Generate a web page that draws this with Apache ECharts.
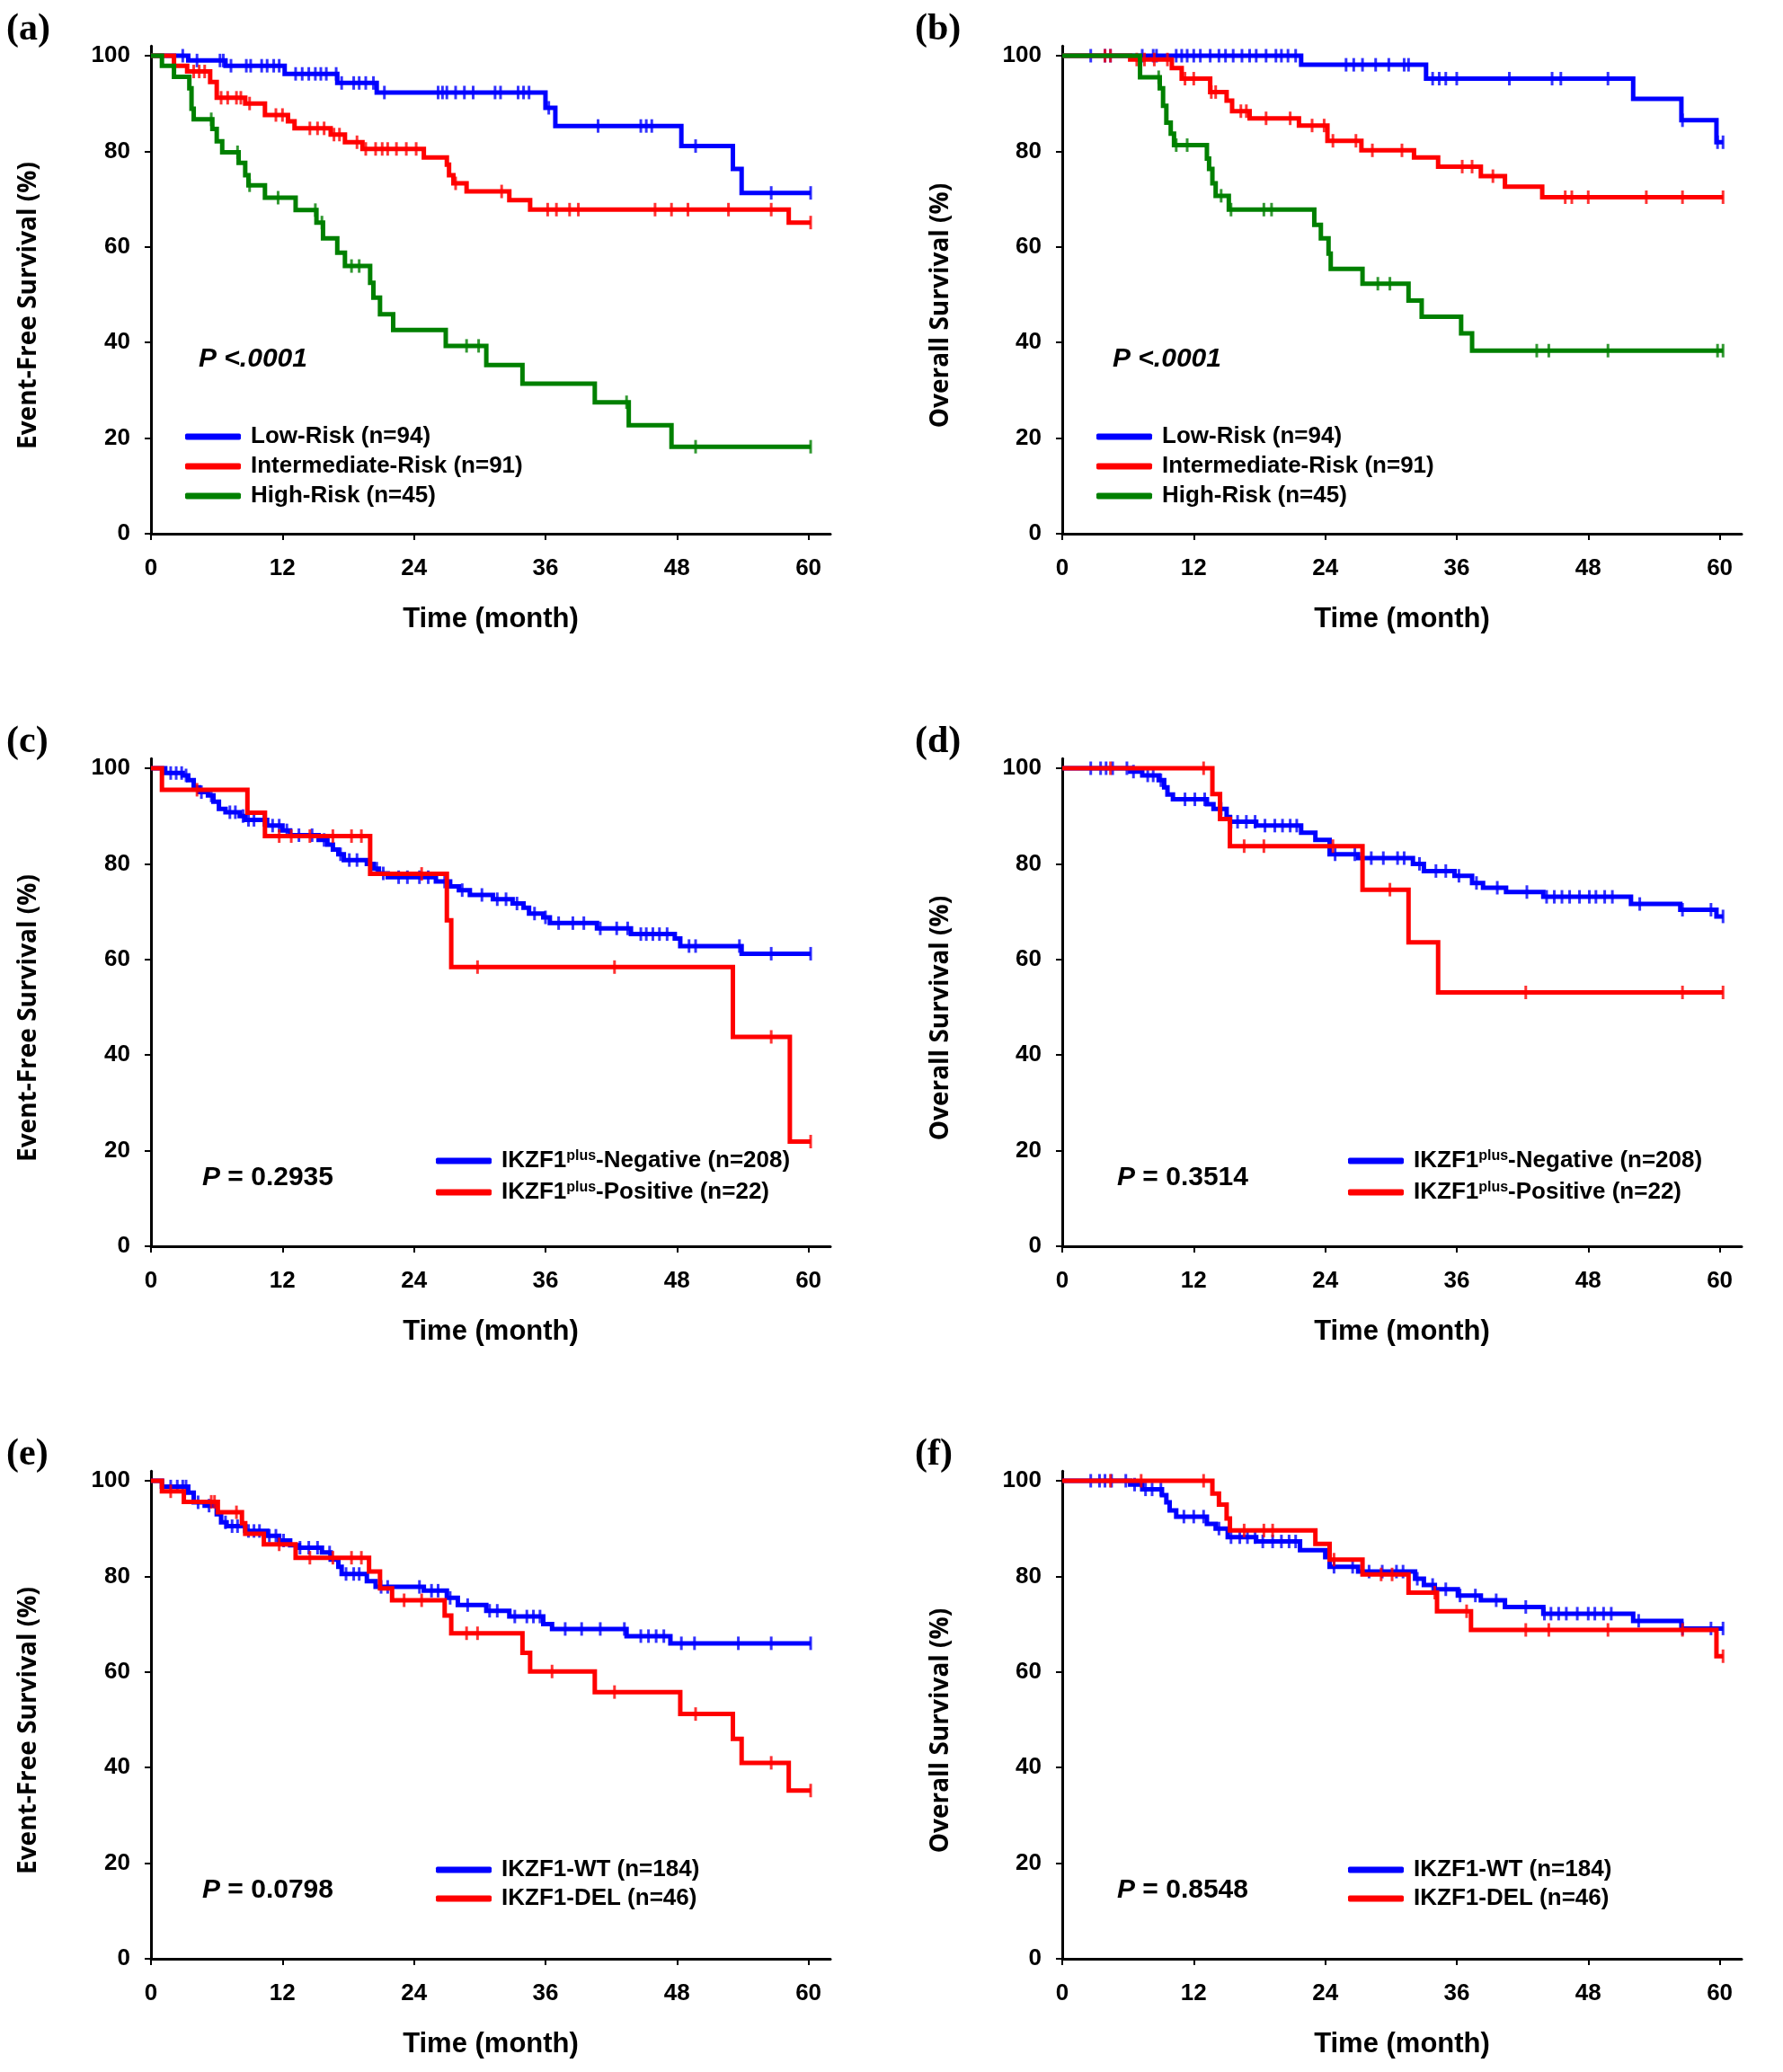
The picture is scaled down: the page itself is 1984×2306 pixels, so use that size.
<!DOCTYPE html>
<html><head><meta charset="utf-8">
<script src="https://cdn.jsdelivr.net/npm/echarts@6/dist/echarts.min.js"></script>
<style>html,body{margin:0;padding:0;background:#fff}#c{width:1984px;height:2306px}</style>
</head><body><div id="c"></div>
<script>
// ---------- tick labels ----------
const X_TICKS = [0, 12, 24, 36, 48, 60];
const Y_TICKS = [0, 20, 40, 60, 80, 100];

// ---------- panel (a) Event-free survival by risk group ----------
const aLowCurve = [[0,100],[3.4,99.0],[6.8,97.9],[12.2,96.2],[17.0,94.3],[20.6,92.3],[36.0,89.1],[36.9,85.3],[48.4,81.1],[53.1,76.3],[53.9,71.3],[60.2,71.3]];
const aLowCens = [2.9,4.2,6.3,6.6,7.3,8.7,9.1,10.1,10.6,11.2,11.7,13.2,13.8,14.4,15.0,15.5,16.0,16.9,17.4,18.5,19.0,19.6,20.3,21.3,26.2,26.6,27.0,27.8,28.6,29.4,31.4,31.9,33.5,34.0,34.5,36.3,40.8,44.7,45.2,45.7,49.7,56.6,60.2];
const aIntCurve = [[0,100],[2.1,97.9],[3.3,96.7],[5.4,94.5],[6.0,91.2],[8.6,90.0],[10.4,87.6],[12.5,86.3],[13.1,84.8],[16.4,83.5],[17.7,81.9],[19.3,80.5],[24.9,78.7],[27.0,77.2],[27.2,75.0],[27.6,73.3],[28.8,71.6],[32.7,69.8],[34.6,67.8],[58.2,65.1],[60.2,65.1]];
const aIntCens = [3.9,4.4,4.9,6.4,7.0,7.8,8.2,9.0,11.4,12.0,14.5,15.2,15.8,16.7,17.2,18.8,19.6,20.5,21.1,21.6,22.4,23.3,24.2,27.8,32.0,36.2,37.0,38.2,39.0,46.0,47.5,49.0,52.7,56.6,60.2];
const aHighCurve = [[0,100],[1.0,97.9],[2.1,95.6],[3.5,93.2],[3.7,88.9],[3.9,86.7],[5.6,84.7],[6.0,82.1],[6.5,79.8],[8.0,77.6],[8.6,75.0],[8.9,72.9],[10.4,70.3],[13.2,67.7],[15.1,65.1],[15.7,61.8],[17.0,58.8],[17.7,56.0],[20.0,52.5],[20.3,49.4],[20.9,45.9],[22.1,42.6],[26.9,39.3],[30.6,35.3],[33.9,31.4],[40.5,27.5],[43.6,22.7],[47.5,18.2],[60.2,18.2]];
const aHighCens = [5.5,7.9,9.0,11.6,15.0,15.6,18.3,19.0,28.8,29.9,43.4,49.7,60.2];

// ---------- panel (b) Overall survival by risk group ----------
const bLowCurve = [[0,100],[21.8,98.1],[33.2,95.2],[52.1,91.0],[56.5,86.5],[59.7,81.9],[60.3,81.9]];
const bLowCens = [2.6,3.9,4.4,7.3,8.3,8.6,10.4,10.9,11.4,12.0,12.6,13.5,14.3,14.9,15.6,16.4,17.1,17.7,18.6,19.5,20.0,20.6,21.3,25.9,26.6,27.4,28.6,29.8,31.2,31.6,33.8,34.4,35.0,36.0,40.8,44.7,45.5,49.8,56.6,59.8,60.3];
const bIntCurve = [[0,100],[6.2,99.2],[10.0,97.4],[10.9,95.2],[13.5,92.4],[15.0,90.6],[15.5,88.4],[17.1,86.9],[21.6,85.4],[24.2,82.2],[27.3,80.2],[32.1,78.7],[34.3,76.8],[38.2,74.8],[40.4,72.6],[43.8,70.4],[60.3,70.4]];
const bIntCens = [3.9,4.4,6.8,7.5,8.4,9.6,11.2,12.0,13.6,14.0,16.3,16.8,18.6,20.8,22.8,23.9,24.7,26.8,28.3,31.0,36.5,37.4,39.3,45.9,46.5,48.0,53.3,56.6,60.3];
const bHighCurve = [[0,100],[7.1,95.5],[8.9,93.2],[9.2,89.5],[9.5,86.0],[9.9,83.7],[10.2,81.3],[13.2,78.5],[13.4,76.3],[13.7,73.3],[14.0,70.7],[15.2,67.8],[23.0,64.6],[23.6,61.8],[24.3,58.6],[24.5,55.4],[27.4,52.3],[31.6,48.8],[32.8,45.4],[36.4,41.9],[37.4,38.3],[60.3,38.3]];
const bHighCens = [8.8,10.4,11.4,14.5,15.4,18.4,19.1,28.8,29.9,43.3,44.4,49.8,59.8,60.3];

// ---------- panel (c) Event-free survival by IKZF1plus ----------
const cNegCurve = [[0,100],[1.3,99.0],[2.9,98.5],[3.4,97.5],[3.9,96.0],[4.4,95.0],[5.2,94.3],[5.7,93.0],[6.2,91.5],[6.8,90.8],[8.1,90.0],[8.6,89.2],[10.6,88.0],[12.0,87.0],[12.7,86.0],[15.3,85.0],[16.1,84.0],[16.6,83.0],[17.1,82.0],[17.6,80.8],[19.7,80.0],[20.3,79.0],[20.8,78.0],[21.6,77.2],[26.0,76.3],[27.3,75.3],[28.1,74.5],[29.1,73.5],[31.2,72.6],[33.0,71.7],[34.0,70.8],[34.5,69.6],[35.8,68.8],[36.4,67.6],[40.7,66.5],[43.8,65.3],[47.8,64.4],[48.3,62.8],[53.9,61.2],[60.2,61.2]];
const cNegCens = [1.8,2.3,2.8,3.2,4.6,5.5,7.2,7.7,8.4,8.9,9.4,10.3,11.1,11.7,12.4,13.5,14.7,15.8,17.3,18.1,18.8,20.6,21.2,22.6,23.4,24.5,25.3,26.8,28.4,30.2,31.6,32.4,33.4,35.0,36.0,37.2,38.5,39.5,41.0,42.5,43.5,44.7,45.2,45.8,46.4,47.1,49.1,49.7,53.7,56.6,60.2];
const cPosCurve = [[0,100],[1.0,95.5],[8.8,90.7],[10.4,85.8],[20.0,77.9],[27.0,68.2],[27.4,58.4],[53.1,43.8],[58.3,21.9],[60.2,21.9]];
const cPosCens = [4.2,11.7,12.8,14.5,16.6,18.3,19.2,24.7,29.8,42.3,56.6,60.2];

// ---------- panel (d) Overall survival by IKZF1plus ----------
const dNegCurve = [[0,100],[6.2,99.3],[7.3,98.5],[8.8,97.5],[9.3,96.0],[9.6,94.5],[10.1,93.5],[13.2,92.5],[13.8,91.5],[15.0,89.8],[15.3,88.8],[17.7,88.0],[21.8,86.5],[23.1,85.0],[24.4,82.0],[27.0,81.2],[32.0,80.0],[33.0,78.5],[35.8,77.5],[37.4,76.0],[38.4,75.0],[40.5,74.1],[43.9,73.1],[51.9,71.6],[56.4,70.4],[59.7,69.0],[60.3,69.0]];
const dNegCens = [2.6,3.5,4.0,4.6,5.9,6.5,7.8,8.3,9.0,11.2,12.1,13.0,14.5,15.4,16.0,16.8,17.6,18.5,19.4,20.1,20.8,21.4,24.9,26.7,28.2,29.3,30.6,31.2,32.6,34.1,35.0,36.2,37.8,39.7,42.4,44.2,44.9,45.6,46.3,47.2,48.1,48.7,49.5,50.2,52.7,56.6,59.2,60.3];
const dPosCurve = [[0,100],[13.7,94.6],[14.4,89.4],[15.3,83.7],[27.4,74.6],[31.6,63.6],[34.3,53.1],[60.3,53.1]];
const dPosCens = [4.4,12.9,16.6,18.4,24.7,29.9,42.3,56.6,60.3];

// ---------- panel (e) Event-free survival by IKZF1 deletion ----------
const eWtCurve = [[0,100],[1.0,98.8],[3.4,97.5],[3.9,95.5],[4.9,94.8],[6.0,93.0],[6.4,91.3],[6.9,90.5],[8.6,89.5],[10.6,88.5],[11.7,87.5],[12.7,86.5],[13.5,86.0],[15.6,85.0],[16.4,83.5],[17.1,82.0],[17.4,80.5],[19.7,79.0],[20.5,77.8],[24.9,77.0],[27.0,75.5],[28.0,74.0],[30.6,72.8],[32.7,71.6],[35.8,70.0],[36.6,69.0],[43.4,67.5],[47.4,66.0],[60.2,66.0]];
const eWtCens = [1.8,2.4,2.9,3.2,4.3,5.3,6.8,7.4,7.9,8.9,9.4,9.9,10.8,11.4,12.1,13.6,14.4,15.2,16.3,17.8,18.5,19.0,21.0,21.6,24.5,25.6,26.2,27.3,28.9,30.9,31.6,33.2,34.3,34.9,35.5,37.8,39.3,41.0,43.2,44.7,45.4,46.1,46.8,48.4,49.6,53.6,56.6,60.2];
const eDelCurve = [[0,100],[1.0,97.8],[3.0,95.6],[6.1,93.4],[8.3,91.1],[8.6,88.9],[10.3,86.7],[13.2,83.9],[19.9,81.0],[20.9,77.5],[22.0,75.0],[26.8,71.8],[27.4,68.1],[33.9,64.0],[34.6,60.1],[40.5,55.8],[48.3,51.2],[53.1,46.0],[53.9,41.0],[58.2,35.2],[60.2,35.2]];
const eDelCens = [1.8,5.5,5.8,7.8,11.7,14.5,16.6,18.3,19.2,23.1,24.7,28.8,29.8,36.6,42.3,49.7,56.6,60.2];

// ---------- panel (f) Overall survival by IKZF1 deletion ----------
const fWtCurve = [[0,100],[6.2,99.2],[7.3,98.2],[9.1,97.0],[9.5,95.5],[9.8,93.8],[10.4,92.5],[13.2,91.0],[14.0,90.0],[15.1,88.2],[17.7,87.3],[21.7,85.5],[24.0,84.0],[24.4,82.0],[27.0,81.0],[32.2,79.5],[33.0,78.2],[34.0,77.3],[36.1,76.0],[38.2,75.0],[40.4,73.6],[43.9,72.2],[52.1,70.7],[56.5,69.1],[60.3,69.1]];
const fWtCens = [2.6,3.4,3.9,4.5,5.8,6.6,7.6,8.2,9.0,11.1,12.0,12.9,14.3,15.4,16.2,16.9,17.6,18.3,19.2,20.0,20.7,21.3,24.8,26.5,28.0,29.2,30.5,31.1,32.4,33.8,35.0,36.3,37.7,39.6,42.3,44.0,44.6,45.3,46.0,47.0,48.0,48.6,49.4,50.1,52.6,56.6,59.2,60.3];
const fDelCurve = [[0,100],[13.7,97.3],[14.3,95.0],[15.0,92.1],[15.3,89.6],[23.1,86.8],[24.4,83.5],[27.4,80.4],[31.6,76.6],[34.2,72.7],[37.3,68.8],[59.7,63.3],[60.3,63.3]];
const fDelCens = [4.4,7.2,12.9,16.6,18.4,19.2,24.8,29.1,30.1,34.0,36.9,42.3,44.4,49.8,56.6,60.3];

// ---------- labels ----------
const RISK_NAMES = ['Low-Risk (n=94)', 'Intermediate-Risk (n=91)', 'High-Risk (n=45)'];
const PLUS_NAMES = ['IKZF1plus-Negative (n=208)', 'IKZF1plus-Positive (n=22)'];
const DEL_NAMES = ['IKZF1-WT (n=184)', 'IKZF1-DEL (n=46)'];
const EFS_TITLE = 'Event-Free Survival (%)';
const OS_TITLE = 'Overall Survival (%)';
const X_TITLE = 'Time (month)';

// ---------- styling / layout ----------
const BLUE = '#0000ff', RED = '#ff0000', GREEN = '#008000';
const SANS = '"Liberation Sans", Arial, sans-serif';
const TITLE_FONT = '"Open Sans", "Liberation Sans", sans-serif';
const SERIF = '"Liberation Serif", "Times New Roman", serif';
const COL_LEFT = [168, 1182];
const ROW_Y100 = [62, 855, 1648];
const PX_PER_PCT = 5.32;
const PLOT_W = 756;

const panels = [
  {letter:'(a)', col:0, row:0, title:EFS_TITLE, p:[{t:'P <.0001', s:'ii'}], names:RISK_NAMES, curves:[aLowCurve,aIntCurve,aHighCurve], cens:[aLowCens,aIntCens,aHighCens], colors:[BLUE,RED,GREEN], pDx:53, pDy:-194, legDx:38, legDy:-121, legGap:7},
  {letter:'(b)', col:1, row:0, title:OS_TITLE, p:[{t:'P <.0001', s:'ii'}], names:RISK_NAMES, curves:[bLowCurve,bIntCurve,bHighCurve], cens:[bLowCens,bIntCens,bHighCens], colors:[BLUE,RED,GREEN], pDx:56, pDy:-194, legDx:38, legDy:-121, legGap:7},
  {letter:'(c)', col:0, row:1, title:EFS_TITLE, p:[{t:'P = 0.2935', s:'ib'}], names:PLUS_NAMES, curves:[cNegCurve,cPosCurve], cens:[cNegCens,cPosCens], colors:[BLUE,RED], pDx:57, pDy:-76, legDx:317, legDy:-108, legGap:9},
  {letter:'(d)', col:1, row:1, title:OS_TITLE, p:[{t:'P = 0.3514', s:'ib'}], names:PLUS_NAMES, curves:[dNegCurve,dPosCurve], cens:[dNegCens,dPosCens], colors:[BLUE,RED], pDx:61, pDy:-76, legDx:318, legDy:-108, legGap:9},
  {letter:'(e)', col:0, row:2, title:EFS_TITLE, p:[{t:'P = 0.0798', s:'ib'}], names:DEL_NAMES, curves:[eWtCurve,eDelCurve], cens:[eWtCens,eDelCens], colors:[BLUE,RED], pDx:57, pDy:-76, legDx:317, legDy:-112, legGap:6},
  {letter:'(f)', col:1, row:2, title:OS_TITLE, p:[{t:'P = 0.8548', s:'ib'}], names:DEL_NAMES, curves:[fWtCurve,fDelCurve], cens:[fWtCens,fDelCens], colors:[BLUE,RED], pDx:61, pDy:-76, legDx:318, legDy:-112, legGap:6}
];

function stepAt(curve, t) {
  let v = curve[0][1];
  for (const pt of curve) { if (pt[0] <= t) v = pt[1]; else break; }
  return v;
}

const grids = [], xAxes = [], yAxes = [], series = [], legends = [], graphics = [];
const tickFont = {color:'#000', fontSize:26, fontWeight:'bold', fontFamily:SANS};

panels.forEach((pn, i) => {
  const x0 = COL_LEFT[pn.col];
  const y100 = ROW_Y100[pn.row];
  const y0 = y100 + 100 * PX_PER_PCT;
  grids.push({left:x0, top:y100 - 2 * PX_PER_PCT, width:PLOT_W, height:102 * PX_PER_PCT, containLabel:false, outerBoundsMode:'none'});
  xAxes.push({
    gridIndex:i, type:'value', min:0, max:62,
    axisLine:{show:true, onZero:false, lineStyle:{color:'#000', width:3}},
    axisTick:{show:true, inside:false, length:7, lineStyle:{color:'#000', width:2}, customValues:X_TICKS},
    axisLabel:Object.assign({margin:26, customValues:X_TICKS}, tickFont),
    splitLine:{show:false},
    name:X_TITLE, nameLocation:'middle', nameGap:80,
    nameTextStyle:{color:'#000', fontSize:31, fontWeight:'bold', fontFamily:SANS}
  });
  yAxes.push({
    gridIndex:i, type:'value', min:0, max:102,
    axisLine:{show:true, onZero:false, lineStyle:{color:'#000', width:3}},
    axisTick:{show:true, inside:false, length:7, lineStyle:{color:'#000', width:2}, customValues:Y_TICKS},
    axisLabel:Object.assign({margin:23, customValues:Y_TICKS}, tickFont),
    splitLine:{show:false}
  });
  pn.curves.forEach((curve, k) => {
    const col = pn.colors[k];
    series.push({
      type:'line', name:pn.names[k], xAxisIndex:i, yAxisIndex:i, data:curve,
      step:'end', symbol:'none', showSymbol:false, silent:true, animation:false,
      lineStyle:{width:5, color:col, join:'miter'}, itemStyle:{color:col}, z:2 + k
    });
    series.push({
      type:'scatter', name:pn.names[k] + ' censored', xAxisIndex:i, yAxisIndex:i,
      data:pn.cens[k].map(t => [t, stepAt(curve, t)]),
      symbol:'rect', symbolSize:[3, 15], itemStyle:{color:col}, silent:true, animation:false, z:2 + k
    });
  });
  legends.push({
    left:x0 + pn.legDx, top:y0 + pn.legDy, orient:'vertical', padding:0,
    data:pn.names, icon:'roundRect', itemWidth:62, itemHeight:7, itemGap:pn.legGap,
    selectedMode:false,
    formatter:n => n.replace('plus', '{sup|plus}'),
    textStyle:{color:'#000', fontSize:26, fontWeight:'bold', fontFamily:SANS, lineHeight:26, padding:[0,0,0,6],
      rich:{sup:{fontSize:16, lineHeight:10, fontWeight:'bold', fontFamily:SANS, color:'#000', verticalAlign:'top'}}}
  });
  // panel letter
  graphics.push({type:'text', x:(pn.col ? 1018 : 7), y:y100 - 29, silent:true,
    style:{text:pn.letter, fill:'#000', fontSize:42, fontWeight:'bold', fontFamily:SERIF, align:'left', verticalAlign:'middle'}});
  // y title
  graphics.push({type:'text', x:(pn.col ? 1047 : 32), y:y0 - 254, rotation:Math.PI / 2, silent:true,
    style:{text:pn.title, fill:'#000', fontSize:28, fontWeight:'bold', fontFamily:TITLE_FONT, align:'center', verticalAlign:'middle'}});
  // P value
  const ptxt = pn.p[0];
  const parts = ptxt.t.split(' ');
  const head = parts.shift();
  const rich = {
    i:{fontSize:30, fontWeight:'bold', fontStyle:'italic', fontFamily:SANS, fill:'#000'},
    b:{fontSize:30, fontWeight:'bold', fontStyle:(ptxt.s === 'ii' ? 'italic' : 'normal'), fontFamily:SANS, fill:'#000'}
  };
  graphics.push({type:'text', x:x0 + pn.pDx, y:y0 + pn.pDy, silent:true,
    style:{text:'{i|' + head + '}{b| ' + parts.join(' ') + '}', rich:rich, align:'left', verticalAlign:'middle'}});
});

const chart = echarts.init(document.getElementById('c'), null, {renderer:'canvas', width:1984, height:2306});
chart.setOption({
  backgroundColor:'#ffffff',
  animation:false,
  grid:grids, xAxis:xAxes, yAxis:yAxes, legend:legends, series:series,
  graphic:{elements:graphics}
});
</script></body></html>
